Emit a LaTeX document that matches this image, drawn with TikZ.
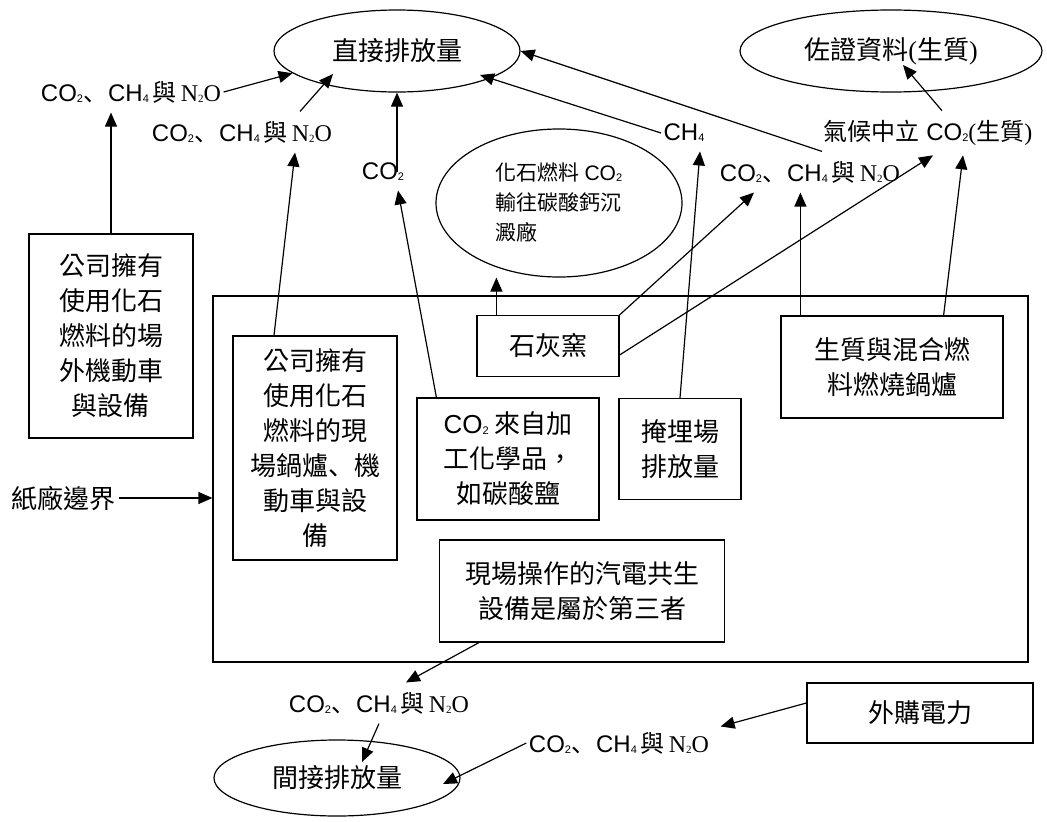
\documentclass[tikz,border=0pt]{standalone}
\usepackage{fontspec}
\usetikzlibrary{arrows.meta,shapes.geometric}
\setmainfont{Liberation Sans}
\newfontfamily\cjk{Noto Sans CJK TC}
\newfontfamily\cjksc{Noto Sans CJK SC}
\newfontfamily\tnr{Liberation Serif}
\newcommand\subsc[1]{\raisebox{-1pt}{\fontsize{11}{11}\selectfont #1}}
\newcommand\dun{{\cjksc 、}}
\newcommand\gases{CO\subsc{2}\dun\kern1pt CH\subsc{4}\kern4pt{\cjk 與}\kern4pt{\tnr N\subsc{2}O}}

\begin{document}
\begin{tikzpicture}[x=1pt,y=-1pt,>={Triangle[length=14pt,width=12pt]},line width=1.2pt,
  bigtxt/.style={font=\cjk\fontsize{26}{35}\selectfont},
  box/.style={draw,rectangle,align=center,inner sep=0pt,bigtxt},
  oval/.style={draw,ellipse,inner sep=0pt,bigtxt},
  gas/.style={font=\fontsize{24}{28}\selectfont,inner xsep=2pt,inner ysep=9pt}]
\path[use as bounding box] (0,0) rectangle (1047,822);
\node[draw,minimum width=815pt,minimum height=366pt] (mill) at (620.5,479) {};
\node[oval,minimum width=246pt,minimum height=82pt] (direct) at (397,51) {直接排放量};
\node[oval,minimum width=302pt,minimum height=82pt] (proof) at (891,51) {佐證資料{\tnr(}生質{\tnr)}};
\node[gas] (gasA) at (131,92) {\gases};
\node[gas] (gasB) at (242,132) {\gases};
\node[gas] (co2a) at (383,172) {CO\subsc{2}};
\node[oval,minimum width=246pt,minimum height=148pt,align=left,font=\cjk\fontsize{21}{30}\selectfont] (sink) at (559,203) {化石燃料 {\rmfamily CO\subsc{2}}\\輸往碳酸鈣沉\\澱廠};
\node[gas] (ch4) at (684,133) {CH\subsc{4}};
\node[gas] (gasC) at (810,172) {\gases};
\node[gas] (neutral) at (928,133) {{\cjk 氣候中立} CO\subsc{2}{\tnr(}{\cjk 生質}{\tnr)}};
\node[box,minimum width=164pt,minimum height=204pt] (offsite) at (111,336) {公司擁有\\使用化石\\燃料的場\\外機動車\\與設備};
\node[box,minimum width=164pt,minimum height=224pt] (onsite) at (315,448) {公司擁有\\使用化石\\燃料的現\\場鍋爐\dun 機\\動車與設\\備};
\node[box,minimum width=182pt,minimum height=122pt] (process) at (508,459) {{\rmfamily CO\subsc{2}} 來自加\\工化學品，\\如碳酸鹽};
\node[box,minimum width=142pt,minimum height=61pt] (kiln) at (548,346) {石灰窯};
\node[box,minimum width=122pt,minimum height=101pt] (landfill) at (680,449) {掩埋場\\排放量};
\node[box,minimum width=222pt,minimum height=102pt] (biomass) at (892,367) {生質與混合燃\\料燃燒鍋爐};
\node[box,minimum width=285pt,minimum height=102pt] (cogen) at (582,591) {現場操作的汽電共生\\設備是屬於第三者};
\node[bigtxt] (millname) at (63,498) {紙廠邊界};
\node[gas] (gasD) at (379,703) {\gases};
\node[oval,minimum width=246pt,minimum height=76pt] (indirect) at (337,778) {間接排放量};
\node[gas] (gasE) at (619,743) {\gases};
\node[box,minimum width=226pt,minimum height=60pt] (power) at (920,713) {外購電力};
\draw[->] (gasA.east) -- (direct.192);
\draw[->] ([xshift=58pt]gasB.north) -- ([xshift=-64pt,yshift=-23pt]direct.center);
\draw[->] ([xshift=14pt]co2a.center) -- (direct.south);
\draw[->] (ch4.west) -- ([xshift=83pt,yshift=-24pt]direct.center);
\draw[->] ([xshift=12pt]gasC.north) -- (direct.east);
\draw[->] ([xshift=14pt]neutral.north) -- ([xshift=12pt,yshift=-14pt]proof.center);
\draw[->] (offsite.north) -- (offsite.north |- gasA.south);
\draw[->] ([xshift=-41pt]onsite.north) -- ([xshift=53pt]gasB.south);
\draw[->] ([xshift=20pt]process.north west) -- ([xshift=15pt]co2a.south);
\draw[->] ([xshift=20pt]kiln.north west) -- ([xshift=20pt]kiln.north west |- sink.south);
\draw[->] (kiln.north east) -- ([xshift=-56pt]gasC.south);
\draw[->] ([yshift=-9pt]kiln.east) -- ([xshift=5pt]neutral.south);
\draw[->] (landfill.north) -- ([xshift=16pt]ch4.south);
\draw[->] ([xshift=20pt]biomass.north west) -- ([xshift=20pt]biomass.north west |- gasC.south);
\draw[->] ([xshift=-60pt]biomass.north east) -- ([xshift=35pt]neutral.south);
\draw[->] (millname) -- (millname -| mill.west);
\draw[->] ([xshift=40pt]cogen.south west) -- ([xshift=27pt]gasD.north);
\draw[->] (gasD.south) -- ([xshift=25pt,yshift=16pt]indirect.center);
\draw[->] (gasE.west) -- ([xshift=106pt,yshift=-6pt]indirect.center);
\draw[->] ([yshift=10pt]power.west) -- ([xshift=9pt,yshift=-4pt]gasE.north east);
\end{tikzpicture}
\end{document}
